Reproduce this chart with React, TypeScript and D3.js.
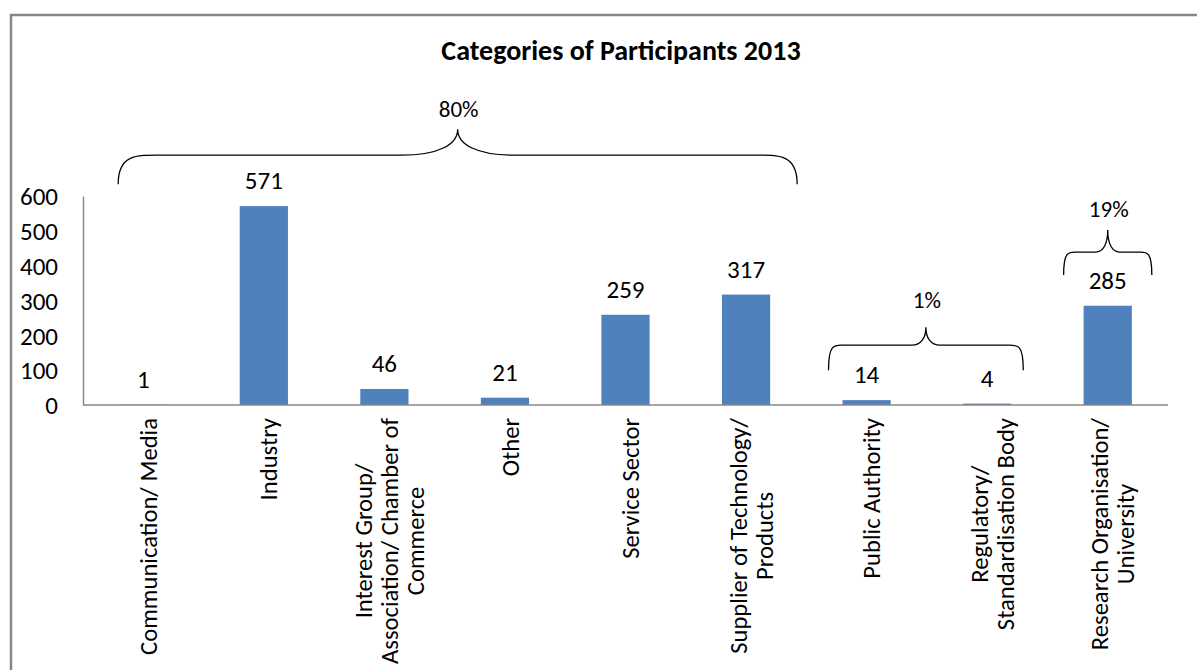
import React, { useEffect, useRef } from 'react';
import * as d3 from 'd3';

const categories: string[][] = [
  ['Communication/ Media'],
  ['Industry'],
  ['Interest Group/', 'Association/ Chamber of', 'Commerce'],
  ['Other'],
  ['Service Sector'],
  ['Supplier of Technology/', 'Products'],
  ['Public Authority'],
  ['Regulatory/', 'Standardisation Body'],
  ['Research Organisation/', 'University'],
];
const participants = [1, 571, 46, 21, 259, 317, 14, 4, 285];
const yTicks = [0, 100, 200, 300, 400, 500, 600];

// brace groups: first/last category index, share label, level of the tips (data units)
const groupFrom = [0, 6, 8];
const groupTo = [5, 7, 8];
const groupLabels = ['80%', '1%', '19%'];
const groupLevels = [634, 100, 373];

const FONT = 'Carlito, Lato, "Open Sans", sans-serif';
const BLUE = '#4F81BD';
const AXIS = '#898989';

export default function App() {
  const svgRef = useRef<SVGSVGElement>(null);

  useEffect(() => {
    if (!svgRef.current) return;
    const svg = d3.select(svgRef.current);
    svg.selectAll('*').remove();

    const left = 83, right = 1168, top = 196, bottom = 405;
    const idx = categories.map((_, i) => i);

    const x = d3.scaleBand<number>().domain(idx).range([left, right]).paddingInner(0.6).paddingOuter(0.3);
    const y = d3.scaleLinear().domain([0, 600]).range([bottom, top]);

    // frame (only left and top visible)
    svg.append('path')
      .attr('d', `M11,680 L11,15 L1210,15`)
      .attr('fill', 'none')
      .attr('stroke', '#878787')
      .attr('stroke-width', 2.5);

    svg.append('text')
      .attr('x', 621)
      .attr('y', 60)
      .attr('text-anchor', 'middle')
      .attr('font-family', FONT)
      .attr('font-weight', 'bold')
      .attr('font-size', 28)
      .attr('fill', '#000')
      .text('Categories of Participants 2013');

    // y axis
    const yAxis = d3.axisLeft(y).tickValues(yTicks).tickSize(0).tickPadding(25);
    const ga = svg.append('g').attr('transform', `translate(${left},0)`).call(yAxis);
    ga.select('.domain').attr('stroke', AXIS).attr('stroke-width', 1.5);
    ga.selectAll('text')
      .attr('font-family', FONT)
      .attr('font-size', 25)
      .attr('fill', '#000')
      .attr('dy', '0.35em');

    // bars
    svg.append('g').selectAll('rect')
      .data(participants)
      .join('rect')
      .attr('x', (_, i) => x(i)!)
      .attr('y', d => y(d))
      .attr('width', x.bandwidth())
      .attr('height', d => y(0) - y(d))
      .attr('fill', BLUE);

    // baseline
    svg.append('line')
      .attr('x1', left).attr('x2', right)
      .attr('y1', y(0)).attr('y2', y(0))
      .attr('stroke', AXIS).attr('stroke-width', 1.5);

    // value labels
    svg.append('g').selectAll('text')
      .data(participants)
      .join('text')
      .attr('x', (_, i) => x(i)! + x.bandwidth() / 2)
      .attr('y', d => y(d) - 17)
      .attr('text-anchor', 'middle')
      .attr('font-family', FONT)
      .attr('font-size', 25)
      .attr('fill', '#000')
      .text(d => String(d));

    // category labels, rotated, center-aligned lines
    const lineH = 26;
    const labTop = 418;
    categories.forEach((lines, i) => {
      const cx = x(i)! + x.bandwidth() / 2 + 5;
      const g = svg.append('g').attr('transform', `translate(${cx},0) rotate(-90)`);
      const texts = lines.map((ln, j) =>
        g.append('text')
          .attr('font-family', FONT)
          .attr('font-size', 24.6)
          .attr('fill', '#000')
          .attr('text-anchor', 'middle')
          .attr('y', (j - (lines.length - 1) / 2) * lineH)
          .attr('dy', '0.35em')
          .text(ln)
      );
      const maxW = d3.max(texts, t => (t.node() as SVGTextElement).getComputedTextLength()) || 0;
      texts.forEach(t => t.attr('x', -(labTop + maxW / 2)));
    });

    // braces
    const brace = (x1: number, x2: number, yTip: number, h: number, ph: number, cw: number, pw: number) => {
      const xm = (x1 + x2) / 2;
      const yb = yTip - h;
      const yp = yb - ph;
      return [
        `M${x1},${yTip}`,
        `C${x1},${yb - h * 0.1} ${x1 + cw * 0.4},${yb} ${x1 + cw},${yb}`,
        `L${xm - pw},${yb}`,
        `C${xm - pw * 0.35},${yb} ${xm},${yb - ph * 0.4} ${xm},${yp}`,
        `C${xm},${yb - ph * 0.4} ${xm + pw * 0.35},${yb} ${xm + pw},${yb}`,
        `L${x2 - cw},${yb}`,
        `C${x2 - cw * 0.4},${yb} ${x2},${yb - h * 0.1} ${x2},${yTip}`,
      ].join(' ');
    };
    const bracePads = [[-1, 27], [-14, 12], [-20, 20]];
    const braceDims = [[29, 26, 50, 56], [25, 18, 16, 14], [23, 22, 14, 12]];
    const labelGaps = [12, 19, 13];
    groupFrom.forEach((from, k) => {
      const x1 = x(from)! + bracePads[k][0];
      const x2 = x(groupTo[k])! + x.bandwidth() + bracePads[k][1];
      const yTip = y(groupLevels[k]);
      const [h, ph, cw, pw] = braceDims[k];
      svg.append('path')
        .attr('d', brace(x1, x2, yTip, h, ph, cw, pw))
        .attr('fill', 'none')
        .attr('stroke', '#000')
        .attr('stroke-width', 1.3);
      svg.append('text')
        .attr('x', (x1 + x2) / 2 + 1)
        .attr('y', yTip - h - ph - labelGaps[k])
        .attr('text-anchor', 'middle')
        .attr('font-family', FONT)
        .attr('font-size', 23)
        .attr('fill', '#000')
        .text(groupLabels[k]);
    });
  }, []);

  return (
    <svg
      ref={svgRef}
      width={1197}
      height={670}
      style={{ position: 'absolute', left: 0, top: 0, background: '#fff' }}
    />
  );
}
